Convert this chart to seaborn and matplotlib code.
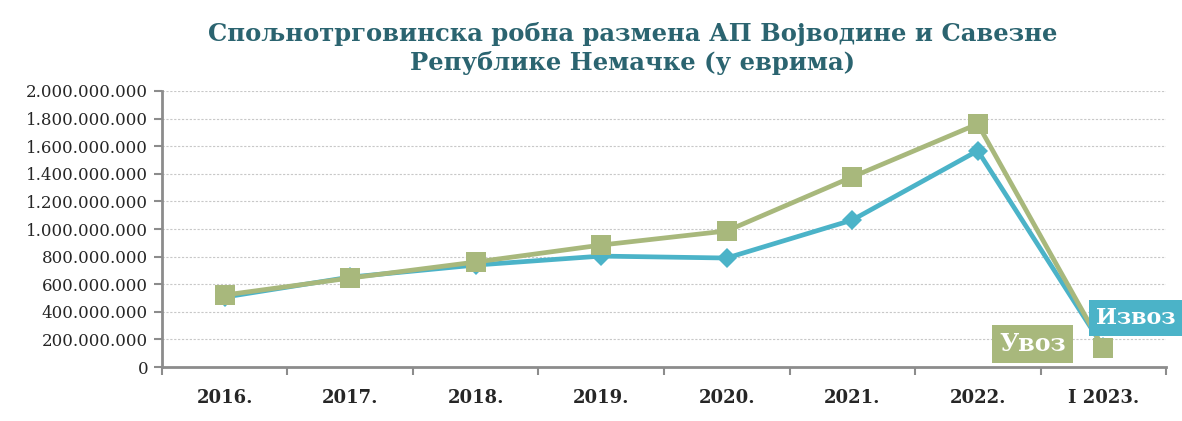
import matplotlib
matplotlib.use("Agg")
import matplotlib.pyplot as plt
import matplotlib.ticker as mticker
import seaborn as sns
import pandas as pd

# Data (EUR)
years = ['2016.', '2017.', '2018.', '2019.', '2020.', '2021.', '2022.', 'I 2023.']
izvoz = [507e6, 652e6, 739e6, 804e6, 790e6, 1065e6, 1567e6, 145e6]
uvoz = [522e6, 645e6, 761e6, 884e6, 986e6, 1377e6, 1761e6, 138e6]

BLUE = '#4BB3C8'
GREEN = '#A8B87C'
TITLE_C = '#2B6470'
AXIS_C = '#8C8C8C'

sns.set_theme(style="white")
plt.rcParams['font.family'] = ['DejaVu Serif']

df = pd.DataFrame({'year': years, 'Извоз': izvoz, 'Увоз': uvoz})
df['pos'] = range(len(years))

fig = plt.figure(figsize=(11.82, 4.21), dpi=100)
ax = fig.add_axes([0.137, 0.128, 0.8495, 0.656])

sns.lineplot(data=df, x='pos', y='Извоз', ax=ax, color=BLUE, linewidth=3.4,
             marker='D', markersize=10, markeredgewidth=0, zorder=3)
sns.lineplot(data=df, x='pos', y='Увоз', ax=ax, color=GREEN, linewidth=3.4,
             marker='s', markersize=14, markeredgewidth=0, zorder=4)

ax.set_xlim(-0.5, len(years) - 0.5)
ax.set_ylim(0, 2e9)
ax.set_yticks([i * 2e8 for i in range(11)])
ax.yaxis.set_major_formatter(mticker.FuncFormatter(lambda v, p: f'{int(v):,}'.replace(',', '.')))
ax.set_xticks(range(len(years)))
ax.set_xticklabels(years, fontweight='bold', fontsize=13)
ax.set_xticks([i - 0.5 for i in range(len(years) + 1)], minor=True)
ax.tick_params(axis='x', which='major', length=0, pad=16)
ax.tick_params(axis='x', which='minor', length=6, width=1.5, color=AXIS_C, direction='out', bottom=True)
ax.tick_params(axis='y', length=6, width=1.5, color=AXIS_C, direction='out', left=True, labelsize=12, pad=4)
ax.set_xlabel('')
ax.set_ylabel('')

ax.grid(axis='y', color='#C8C8C8', linestyle=(0, (2, 1.5)), linewidth=0.8)
ax.set_axisbelow(True)
for s in ['top', 'right']:
    ax.spines[s].set_visible(False)
for s in ['left', 'bottom']:
    ax.spines[s].set_color(AXIS_C)
    ax.spines[s].set_linewidth(2)

last = len(years) - 1
ax.annotate('Увоз', xy=(last, uvoz[last]), xytext=(-51, 3), textcoords='offset points',
            ha='center', va='center', color='white', fontweight='bold', fontsize=17,
            bbox=dict(boxstyle='square,pad=0.3', fc=GREEN, ec='none'), zorder=6)
ax.annotate('Извоз', xy=(last, izvoz[last]), xytext=(-5, 21), textcoords='offset points',
            ha='left', va='center', color='white', fontweight='bold', fontsize=16,
            bbox=dict(boxstyle='square,pad=0.32', fc=BLUE, ec='none'), zorder=6,
            annotation_clip=False)

fig.text(0.535, 0.885, 'Спољнотрговинска робна размена АП Војводине и Савезне\nРепублике Немачке (у еврима)',
         ha='center', va='center', color=TITLE_C, fontweight='bold', fontsize=17.5, linespacing=1.3)

fig.savefig('out.png', dpi=100)
